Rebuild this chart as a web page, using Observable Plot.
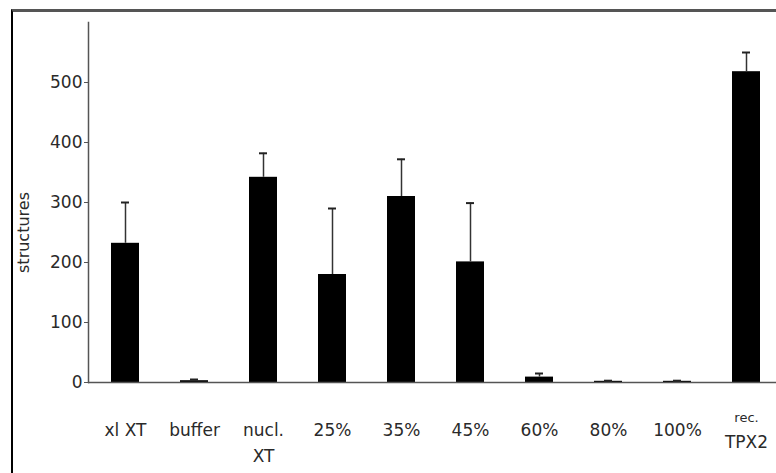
<!DOCTYPE html>
<html>
<head>
<meta charset="utf-8">
<script src="https://cdn.jsdelivr.net/npm/d3@7"></script>
<script src="https://cdn.jsdelivr.net/npm/@observablehq/plot@0.6"></script>
<style>
  html, body { margin: 0; padding: 0; background: #fff; overflow: hidden; }
  #wrap { position: relative; width: 776px; height: 473px; overflow: hidden; }
  #border { position: absolute; left: 11px; top: 9px; right: -10px; bottom: -10px;
            border-left: 2px solid #000; border-top: 3px solid #555; pointer-events: none; }
</style>
</head>
<body>
<div id="wrap"><div id="border"></div></div>
<script>
const categories = ["xl XT", "buffer", "nucl. XT", "25%", "35%", "45%", "60%", "80%", "100%", "rec. TPX2"];
const values     = [232, 3, 342, 180, 310, 201, 9, 2, 2, 518];
const errorTops  = [300, 5, 382, 290, 372, 299, 15, 3, 3, 550];
const labelLine1 = ["xl XT", "buffer", "nucl.", "25%", "35%", "45%", "60%", "80%", "100%", ""];
const labelLine2 = ["", "", "XT", "", "", "", "", "", "", ""];
const recLine1   = ["", "", "", "", "", "", "", "", "", "rec."];
const recLine2   = ["", "", "", "", "", "", "", "", "", "TPX2"];
const yTicks = [0, 100, 200, 300, 400, 500];
const yLabel = "structures";
const yLabelAt = 250;

const data = categories.map((c, i) => ({
  cat: c, value: values[i], top: errorTops[i],
  l1: labelLine1[i], l2: labelLine2[i], r1: recLine1[i], r2: recLine2[i]
}));

const chart = Plot.plot({
  width: 776,
  height: 473,
  marginTop: 22,
  marginBottom: 91,
  marginLeft: 88,
  marginRight: 0,
  style: { fontFamily: "DejaVu Sans, sans-serif", fontSize: "17px", color: "#2a2a2a", background: "transparent" },
  x: { domain: categories, range: [87, 785], paddingInner: 0.59, paddingOuter: 0.295, axis: null },
  y: { domain: [0, 600] },
  marks: [
    Plot.frame({ anchor: "left", stroke: "#555", strokeWidth: 1.5 }),
    Plot.axisY({ ticks: yTicks, tickSize: 4, tickPadding: 2, label: null, stroke: "#555", fontSize: 17, letterSpacing: 1 }),
    Plot.barY(data, { x: "cat", y: "value", fill: "#000" }),
    Plot.ruleX(data, { x: "cat", y1: "value", y2: "top", stroke: "#333", strokeWidth: 1.5 }),
    Plot.tickY(data, { x: "cat", y: "top", stroke: "#222", strokeWidth: 2, insetLeft: 10, insetRight: 10 }),
    Plot.ruleY([0], { stroke: "#555", strokeWidth: 1.5 }),
    Plot.text(data.filter(d => d.l1), { x: "cat", text: "l1", frameAnchor: "bottom", dy: 53, fill: "#2a2a2a", fontSize: 17, letterSpacing: 1.3 }),
    Plot.text(data.filter(d => d.l2), { x: "cat", text: "l2", frameAnchor: "bottom", dy: 79, fill: "#2a2a2a", fontSize: 17, letterSpacing: 1.3 }),
    Plot.text(data.filter(d => d.r1), { x: "cat", text: "r1", frameAnchor: "bottom", dy: 39, fill: "#2a2a2a", fontSize: 13, letterSpacing: 0.5 }),
    Plot.text(data.filter(d => d.r2), { x: "cat", text: "r2", frameAnchor: "bottom", dy: 65, fill: "#2a2a2a", fontSize: 17, letterSpacing: 1.3 }),
    Plot.text([yLabel], { y: () => yLabelAt, frameAnchor: "left", textAnchor: "middle", dx: -65, rotate: -90, fill: "#2a2a2a", fontSize: 16, letterSpacing: 1 })
  ]
});
document.getElementById("wrap").prepend(chart);
</script>
</body>
</html>
